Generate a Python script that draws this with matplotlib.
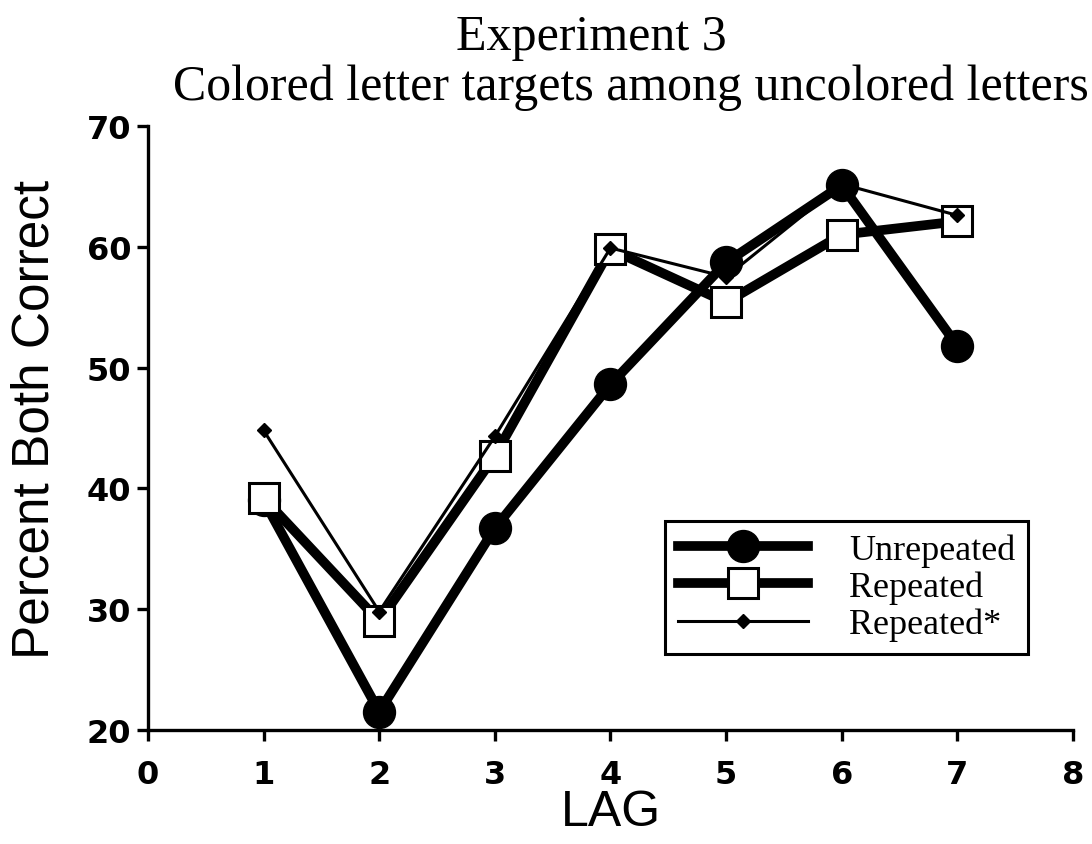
import matplotlib
matplotlib.use("Agg")
import matplotlib.pyplot as plt

lags = [1, 2, 3, 4, 5, 6, 7]
unrepeated = [39.0, 21.5, 36.7, 48.6, 58.7, 65.1, 51.8]
repeated = [39.2, 29.0, 42.7, 59.8, 55.4, 61.0, 62.1]
repeated_star = [44.8, 29.8, 44.3, 59.9, 57.5, 65.2, 62.6]

x_ticks = [0, 1, 2, 3, 4, 5, 6, 7, 8]
y_ticks = [20, 30, 40, 50, 60, 70]

fig = plt.figure(figsize=(10.92, 8.45), dpi=100)
ax = fig.add_axes([0.1355, 0.135, 0.8471, 0.7147])

ax.plot(lags, repeated_star, color="black", lw=2.2, marker="D", ms=7,
        mfc="black", mec="black", label="Repeated*", zorder=4)
ax.plot(lags, repeated, color="black", lw=7, marker="s", ms=22,
        mfc="white", mec="black", mew=2.2, label="Repeated", zorder=3)
ax.plot(lags, unrepeated, color="black", lw=7, marker="o", ms=23,
        mfc="black", mec="black", label="Unrepeated", zorder=2)

ax.set_xlim(0, 8)
ax.set_ylim(20, 70)
ax.set_xticks(x_ticks)
ax.set_yticks(y_ticks)
for s in ["top", "right"]:
    ax.spines[s].set_visible(False)
for s in ["left", "bottom"]:
    ax.spines[s].set_linewidth(2.4)
ax.tick_params(direction="out", length=8, width=2.4)
ax.tick_params(axis="x", pad=13)
ax.tick_params(axis="y", pad=4)
for lbl in ax.get_xticklabels() + ax.get_yticklabels():
    lbl.set_fontfamily("DejaVu Sans")
    lbl.set_fontweight("bold")
    lbl.set_fontsize(23)

ax.set_xlabel("LAG", fontfamily="Liberation Sans", fontsize=36)
ax.xaxis.set_label_coords(0.5, -0.098)
ax.xaxis.label.set_va("top")
ax.set_ylabel("Percent Both Correct", fontfamily="Liberation Sans", fontsize=37)
ax.yaxis.set_label_coords(-0.122, 0.515)
ax.yaxis.label.set_va("center")

fig.text(0.542, 0.941, "Experiment 3", ha="center", va="baseline",
         fontfamily="Liberation Serif", fontsize=36)
fig.text(0.578, 0.882, "Colored letter targets among uncolored letters",
         ha="center", va="baseline", fontfamily="Liberation Serif", fontsize=36)

handles, labels = ax.get_legend_handles_labels()
order = [2, 1, 0]
leg = ax.legend([handles[i] for i in order], [labels[i] for i in order],
                loc="lower left", bbox_to_anchor=(0.559, 0.126), borderaxespad=0,
                prop={"family": "Liberation Serif", "size": 26},
                frameon=True, fancybox=False, edgecolor="black", framealpha=1,
                handlelength=3.6, handletextpad=1.15, borderpad=0.35,
                labelspacing=0.1)
leg.get_frame().set_linewidth(2.2)

fig.savefig("out.png", dpi=100, facecolor="white")
